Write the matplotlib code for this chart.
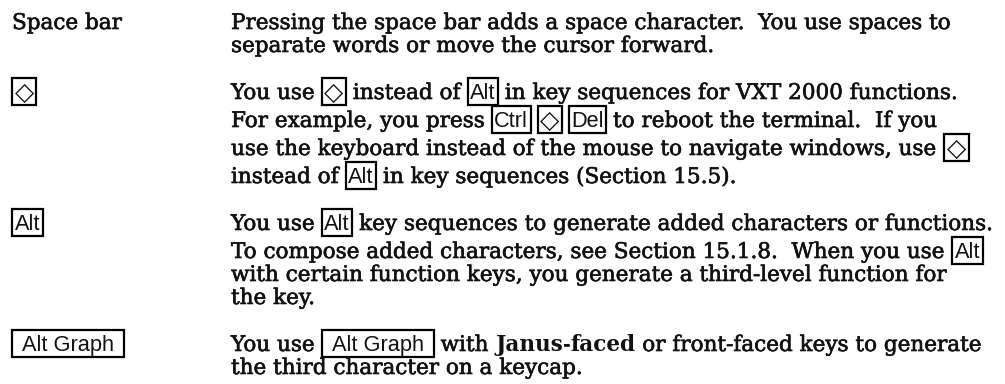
import re
import matplotlib.pyplot as plt
import matplotlib.patheffects as pe
from matplotlib.patches import Rectangle
from matplotlib.font_manager import FontProperties

# left-hand labels, one per paragraph ([...] = keycap)
labels = ["Space bar", "[◇]", "[Alt]", "[Alt Graph]"]

# body text, one list of lines per paragraph ([...] = keycap, *...* = bold)
paragraphs = [
    ["Pressing the space bar adds a space character.  You use spaces to",
     "separate words or move the cursor forward."],
    ["You use [◇] instead of [Alt] in key sequences for VXT 2000 functions.",
     "For example, you press [Ctrl] [◇] [Del] to reboot the terminal.  If you",
     "use the keyboard instead of the mouse to navigate windows, use [◇]",
     "instead of [Alt] in key sequences (Section 15.5)."],
    ["You use [Alt] key sequences to generate added characters or functions.",
     "To compose added characters, see Section 15.1.8.  When you use [Alt]",
     "with certain function keys, you generate a third-level function for",
     "the key."],
    ["You use [Alt Graph] with *Janus*-*faced* or front-faced keys to generate",
     "the third character on a keycap."],
]

W, H = 1005, 384
X_LABEL, X_BODY = 12, 231
RIGHT = 996      # where the widest line ends in the scan
Y_FIRST = 29
LINE = 23        # normal baseline skip
KEY_EXTRA = 5    # extra skip when the line holds a keycap
PARA_EXTRA = 19  # extra skip between paragraphs
INK = '#111111'
SERIF = 'DejaVu Serif'
SANS = ['Liberation Sans', 'DejaVu Sans']

fig = plt.figure(figsize=(W / 100, H / 100), dpi=100)
ax = fig.add_axes([0, 0, 1, 1])
ax.set_xlim(0, W)
ax.set_ylim(H, 0)
ax.axis('off')
fig.canvas.draw()
r = fig.canvas.get_renderer()


def width(s, fp):
    w1, _, _ = r.get_text_width_height_descent('|' + s + '|', fp, ismath=False)
    w2, _, _ = r.get_text_width_height_descent('||', fp, ismath=False)
    return w1 - w2


def fonts(size):
    return (FontProperties(family=SERIF, size=size),
            FontProperties(family=SERIF, size=size, weight='bold'))


key_fp = FontProperties(family=SANS, size=16)
key_fp.set_size(16 * 92 / width('Alt Graph', key_fp))
diamond_fp = FontProperties(family='DejaVu Sans', size=key_fp.get_size() * 1.15)
thick = [pe.withStroke(linewidth=0.45, foreground=INK)]


def put(x, y, s, fp, effects=None, draw=True):
    core = s.strip()
    x += width(s[:len(s) - len(s.lstrip())], fp)
    if core and draw:
        ax.text(x, y, core, fontproperties=fp, va='baseline', ha='left',
                color=INK, path_effects=effects)
    return x + width(s.lstrip(), fp)


def draw_line(x, y, line, body_fp, bold_fp, draw=True):
    for tok in re.split(r'(\[[^\]]+\]|\*[^*]+\*)', line):
        if not tok:
            continue
        if tok.startswith('['):
            key = tok[1:-1]
            fp = diamond_fp if key == '◇' else key_fp
            pad = 10 if ' ' in key else 2.5
            w = width(key, fp)
            if draw:
                put(x + pad, y + (1 if key == '◇' else 0), key, fp)
                ax.add_patch(Rectangle((x, y + 6), w + 2 * pad, -27, fill=False,
                                       lw=1.6, ec='black'))
            x += w + 2 * pad
        elif tok.startswith('*'):
            x = put(x, y, tok[1:-1], bold_fp, draw=draw)
        else:
            x = put(x, y, tok, body_fp, thick, draw=draw)
    return x


# body size: widest line should end where it ends in the scan
all_lines = [l for lines in paragraphs for l in lines]
keys_only = [draw_line(0, 0, l, *fonts(1e-3), draw=False) for l in all_lines]
full16 = [draw_line(0, 0, l, *fonts(16), draw=False) for l in all_lines]
body_size = min(16 * (RIGHT - X_BODY - k) / (f - k) for k, f in zip(keys_only, full16))
body_fp, bold_fp = fonts(body_size)

y = Y_FIRST
for p, (label, lines) in enumerate(zip(labels, paragraphs)):
    if p > 0:
        y += LINE + PARA_EXTRA + (KEY_EXTRA if '[' in lines[0] else 0)
    draw_line(X_LABEL, y, label, body_fp, bold_fp)
    for i, line in enumerate(lines):
        if i > 0:
            y += LINE + (KEY_EXTRA if '[' in line else 0)
        draw_line(X_BODY, y, line, body_fp, bold_fp)

fig.savefig('out.png', dpi=100, facecolor='white')
